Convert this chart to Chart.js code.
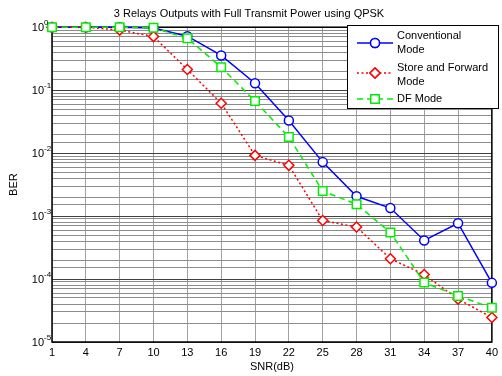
<!DOCTYPE html>
<html>
<head>
<meta charset="utf-8">
<script src="https://cdn.jsdelivr.net/npm/chart.js@4/dist/chart.umd.min.js"></script>
<style>
  body { margin: 0; background: #fff; }
  canvas { display: block; }
</style>
</head>
<body>
<canvas id="berChart" width="502" height="376"></canvas>
<script>
const snrLabels = ['1', '4', '7', '10', '13', '16', '19', '22', '25', '28', '31', '34', '37', '40'];
const conventional = [1.0, 1.0, 1.0, 0.97, 0.72, 0.356, 0.129, 0.033, 0.0072, 0.00206, 0.00134, 0.00041, 0.00077, 0.000087];
const storeForward = [1.0, 1.0, 0.9, 0.71, 0.213, 0.062, 0.0092, 0.0064, 0.00085, 0.00067, 0.00021, 0.000118, 0.000048, 0.0000245];
const dfMode = [1.0, 1.0, 1.0, 0.98, 0.67, 0.232, 0.067, 0.018, 0.0025, 0.00154, 0.00055, 0.000088, 0.000054, 0.000035];
const decades = [0, -1, -2, -3, -4, -5];

const FONT = '"Liberation Sans", Arial, sans-serif';

// legend entries drawn inside the plot, like the matlab figure
const legendItems = [
    { lines: ['Conventional', 'Mode'], color: '#0000ff', dash: [], style: 'circle', radius: 4.5 },
    { lines: ['Store and Forward', 'Mode'], color: '#ff0000', dash: [2, 2.5], style: 'rectRot', radius: 5 },
    { lines: ['DF Mode'], color: '#00ee00', dash: [6, 4], style: 'rect', radius: 6 }
];

const boxPlugin = {
    id: 'boxPlugin',
    beforeDatasetsDraw(chart) {
        const ctx = chart.ctx;
        const a = chart.chartArea;
        ctx.save();
        // axes box, under the markers
        ctx.strokeStyle = '#000';
        ctx.lineWidth = 1.5;
        ctx.strokeRect(a.left, a.top, a.right - a.left, a.bottom - a.top);
        ctx.restore();
    },
    afterDraw(chart) {
        const ctx = chart.ctx;
        const a = chart.chartArea;
        const y = chart.scales.y;
        ctx.save();
        // y tick labels as 10 with superscript exponent
        ctx.fillStyle = '#000';
        ctx.textAlign = 'right';
        ctx.textBaseline = 'middle';
        decades.forEach(d => {
            const py = y.getPixelForValue(Math.pow(10, d));
            ctx.font = '11px ' + FONT;
            ctx.fillText('10', a.left - 8, py + 1);
            ctx.font = '8px ' + FONT;
            ctx.textAlign = 'left';
            ctx.fillText(d === 0 ? '0' : String(d), a.left - 8, py - 4);
            ctx.textAlign = 'right';
        });

        // legend
        const lx = 347, ly = 25, lw = 151, lh = 83;
        ctx.fillStyle = '#fff';
        ctx.fillRect(lx, ly, lw, lh);
        ctx.strokeStyle = '#000';
        ctx.lineWidth = 1;
        ctx.strokeRect(lx + 0.5, ly + 0.5, lw, lh);
        const rows = [[43, 36], [73, 68], [99, 99]];
        ctx.font = '11px ' + FONT;
        ctx.textAlign = 'left';
        legendItems.forEach((it, i) => {
            const sy = rows[i][0];
            ctx.strokeStyle = it.color;
            ctx.lineWidth = 1.5;
            ctx.setLineDash(it.dash);
            ctx.beginPath();
            ctx.moveTo(357, sy);
            ctx.lineTo(393, sy);
            ctx.stroke();
            ctx.setLineDash([]);
            ctx.fillStyle = '#fff';
            Chart.helpers.drawPoint(ctx, { pointStyle: it.style, radius: it.radius, borderWidth: 1.5, rotation: 0 }, 375, sy);
            ctx.fill();
            ctx.stroke();
            ctx.fillStyle = '#000';
            it.lines.forEach((t, j) => ctx.fillText(t, 397, rows[i][1] + j * 14));
        });
        ctx.restore();
    }
};

new Chart(document.getElementById('berChart').getContext('2d'), {
    type: 'line',
    data: {
        labels: snrLabels,
        datasets: [
            {
                label: 'Conventional Mode',
                data: conventional,
                order: 3,
                clip: false,
                borderColor: '#0000ff',
                backgroundColor: '#fff',
                borderWidth: 1.5,
                pointStyle: 'circle',
                pointRadius: 4.5,
                pointBorderWidth: 1.5,
                tension: 0
            },
            {
                label: 'Store and Forward Mode',
                data: storeForward,
                order: 2,
                clip: false,
                borderColor: '#ff0000',
                backgroundColor: '#fff',
                borderWidth: 1.5,
                borderDash: [2, 2.5],
                pointStyle: 'rectRot',
                pointRadius: 5,
                pointBorderWidth: 1.5,
                tension: 0
            },
            {
                label: 'DF Mode',
                data: dfMode,
                order: 1,
                clip: false,
                borderColor: '#00ee00',
                backgroundColor: '#fff',
                borderWidth: 1.5,
                borderDash: [6, 4],
                pointStyle: 'rect',
                pointRadius: 6,
                pointBorderWidth: 1.5,
                tension: 0
            }
        ]
    },
    options: {
        responsive: false,
        devicePixelRatio: 1,
        animation: false,
        layout: { padding: { left: 0, right: 4, top: 0, bottom: 0 } },
        plugins: {
            legend: { display: false },
            tooltip: { enabled: false },
            title: {
                display: true,
                text: '3 Relays Outputs with Full Transmit Power using QPSK',
                color: '#000',
                font: { family: FONT, size: 11, weight: 'normal' },
                padding: { top: 7, bottom: 7 }
            }
        },
        scales: {
            x: {
                type: 'category',
                offset: false,
                grid: { color: '#a0a0a0', lineWidth: 1, drawTicks: false },
                border: { display: false },
                ticks: { color: '#000', font: { family: FONT, size: 11 }, padding: 4, maxRotation: 0, autoSkip: false },
                title: { display: true, text: 'SNR(dB)', color: '#000', font: { family: FONT, size: 11 }, padding: { top: 0, bottom: 2 } },
                afterFit(s) { s.height = 34; }
            },
            y: {
                type: 'logarithmic',
                min: 1e-5,
                max: 1,
                grid: {
                    drawTicks: false,
                    lineWidth: 1,
                    color: ctx => {
                        const v = ctx.tick ? ctx.tick.value : 1;
                        const e = Math.log10(v);
                        return Math.abs(e - Math.round(e)) < 1e-6 ? '#404040' : '#8c8c8c';
                    }
                },
                border: { display: false },
                ticks: { display: false },
                title: { display: true, text: 'BER', color: '#000', font: { family: FONT, size: 11 }, padding: { top: 7, bottom: 0 } },
                afterFit(s) { s.width = 52; }
            }
        }
    },
    plugins: [boxPlugin]
});
</script>
</body>
</html>
